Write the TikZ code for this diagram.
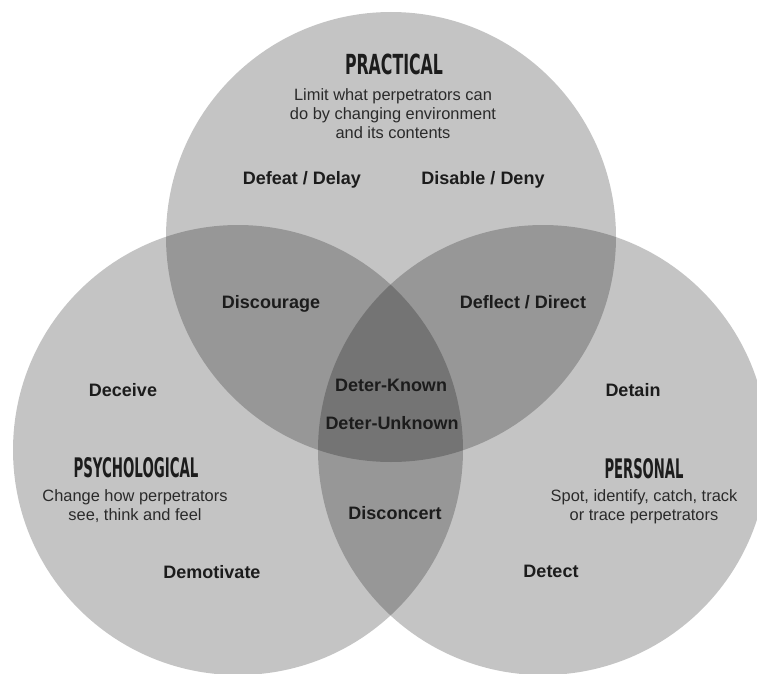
\documentclass[tikz,border=0pt]{standalone}
\usepackage{fontspec}
\setmainfont{Liberation Sans}
\newfontfamily\titlefont{DejaVu Sans}
\definecolor{txt}{HTML}{1C1C1C}
\definecolor{desctxt}{HTML}{2A2A2A}
\begin{document}
\begin{tikzpicture}[x=0.75pt,y=-0.75pt,
  zone/.style={fill=black,fill opacity=0.23},
  lbl/.style={font=\bfseries\fontsize{13.5}{16}\selectfont, text=txt, inner sep=0pt, anchor=base},
  ttl/.style={font=\titlefont\bfseries\fontsize{21}{24}\selectfont, text=txt, inner sep=0pt, anchor=base},
  desc/.style={font=\fontsize{12.3}{14.25}\selectfont, text=desctxt, align=center, inner sep=0pt, anchor=base}]
\useasboundingbox (0,0) rectangle (757,674);
\begin{scope}
\clip (0,0) rectangle (757,674);
\fill[zone] (391,237) circle[radius=225];
\fill[zone] (238,450) circle[radius=225];
\fill[zone] (543,450) circle[radius=225];
\end{scope}
% Practical
\node[ttl] (tprac) at (394,75) {\resizebox{73.5pt}{15.4pt}{PRACTICAL}};
\node[desc] (dprac) at (393,138) {Limit what perpetrators can\\do by changing environment\\and its contents};
\node[lbl] (defeat) at (302,184) {Defeat / Delay};
\node[lbl] (disable) at (483,184) {Disable / Deny};
% overlaps
\node[lbl] (discourage) at (271,308) {Discourage};
\node[lbl] (deflect) at (523,308) {Deflect / Direct};
\node[lbl] (known) at (391,391) {Deter-Known};
\node[lbl] (unknown) at (392,429) {Deter-Unknown};
\node[lbl] (disconcert) at (395,519) {Disconcert};
% Psychological
\node[lbl] (deceive) at (123,396) {Deceive};
\node[ttl] (tpsy) at (136,477) {\resizebox{93.75pt}{15pt}{PSYCHOLOGICAL}};
\node[desc] (dpsy) at (135,520) {Change how perpetrators\\see, think and feel};
\node[lbl] (demot) at (212,578) {Demotivate};
% Personal
\node[lbl] (detain) at (633,396) {Detain};
\node[ttl] (tpers) at (644,478) {\resizebox{59.25pt}{15pt}{PERSONAL}};
\node[desc] (dpers) at (644,520) {Spot, identify, catch, track\\or trace perpetrators};
\node[lbl] (detect) at (551,577) {Detect};
\end{tikzpicture}
\end{document}
